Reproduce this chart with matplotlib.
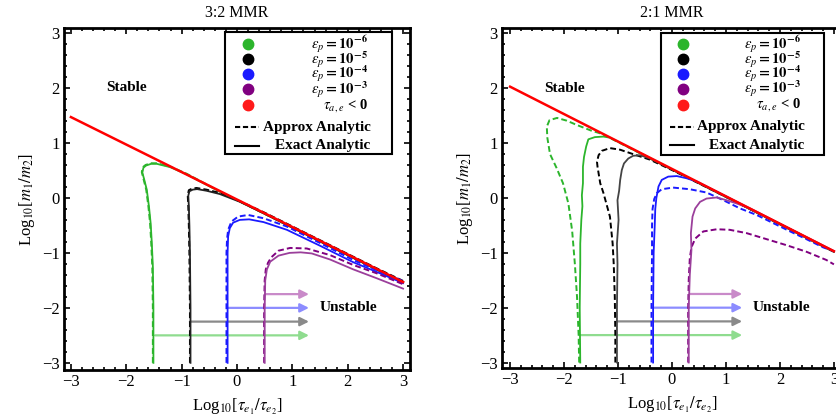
import matplotlib
matplotlib.use('Agg')
import matplotlib.pyplot as plt
from matplotlib.patches import Rectangle
from matplotlib.ticker import MultipleLocator

plt.rcParams['font.family'] = 'serif'
plt.rcParams['font.serif'] = ['Liberation Serif', 'DejaVu Serif']
plt.rcParams['mathtext.fontset'] = 'stix'

# ---- 3:2 MMR panel ----
red_x_32 = [-3.0, 3.0]
red_y_32 = [1.47, -1.53]

green_approx_x_32 = [-1.52, -1.52, -1.53, -1.55, -1.57, -1.60, -1.64, -1.69, -1.72, -1.70, -1.65, -1.55, -1.45, -1.21, -0.91, -0.67, -0.30, 0.5, 1.5, 2.5, 3.0]
green_approx_y_32 = [-3.0, -2.0, -1.25, -0.8, -0.46, -0.16, 0.15, 0.35, 0.47, 0.56, 0.60, 0.63, 0.63, 0.57, 0.44, 0.31, 0.11, -0.29, -0.79, -1.29, -1.54]
green_exact_x_32 = [-1.51, -1.51, -1.52, -1.54, -1.56, -1.59, -1.63, -1.68, -1.71, -1.69, -1.64, -1.55, -1.45, -1.21, -0.91, -0.67, -0.30, 0.5, 1.5, 2.5, 3.0]
green_exact_y_32 = [-3.0, -2.0, -1.25, -0.8, -0.46, -0.16, 0.15, 0.35, 0.46, 0.55, 0.59, 0.62, 0.62, 0.56, 0.43, 0.30, 0.11, -0.29, -0.79, -1.29, -1.54]

black_approx_x_32 = [-0.85, -0.85, -0.86, -0.87, -0.88, -0.89, -0.87, -0.81, -0.73, -0.55, -0.31, 0.05, 0.5, 1.5, 2.5, 3.0]
black_approx_y_32 = [-3.0, -2.0, -1.0, -0.5, -0.15, 0.05, 0.14, 0.17, 0.18, 0.15, 0.09, -0.06, -0.27, -0.77, -1.27, -1.51]
black_exact_x_32 = [-0.84, -0.84, -0.85, -0.86, -0.87, -0.88, -0.86, -0.80, -0.72, -0.55, -0.31, 0.05, 0.5, 1.5, 2.5, 3.0]
black_exact_y_32 = [-3.0, -2.0, -1.0, -0.5, -0.15, 0.04, 0.12, 0.15, 0.16, 0.13, 0.07, -0.07, -0.29, -0.79, -1.29, -1.53]

blue_approx_x_32 = [-0.19, -0.19, -0.19, -0.18, -0.16, -0.10, 0.02, 0.20, 0.48, 0.90, 1.5, 2.1, 2.58, 3.0]
blue_approx_y_32 = [-3.0, -2.0, -1.0, -0.75, -0.58, -0.43, -0.34, -0.31, -0.37, -0.52, -0.82, -1.13, -1.34, -1.51]
blue_exact_x_32 = [-0.17, -0.17, -0.17, -0.16, -0.13, -0.07, 0.05, 0.22, 0.48, 0.90, 1.5, 2.1, 2.58, 3.0]
blue_exact_y_32 = [-3.0, -2.0, -1.0, -0.70, -0.55, -0.45, -0.40, -0.39, -0.44, -0.58, -0.87, -1.17, -1.37, -1.55]

purple_approx_x_32 = [0.49, 0.49, 0.50, 0.52, 0.56, 0.62, 0.75, 0.96, 1.26, 1.68, 2.1, 2.52, 3.0]
purple_approx_y_32 = [-3.0, -2.0, -1.5, -1.3, -1.18, -1.08, -0.96, -0.91, -0.92, -1.04, -1.22, -1.37, -1.57]
purple_exact_x_32 = [0.50, 0.50, 0.51, 0.54, 0.60, 0.75, 0.95, 1.15, 1.35, 1.68, 2.1, 2.52, 3.0]
purple_exact_y_32 = [-3.0, -2.0, -1.5, -1.3, -1.16, -1.05, -1.00, -0.99, -1.01, -1.12, -1.30, -1.46, -1.65]

arrow_start_32 = [0.52, -0.16, -0.85, -1.48]

# ---- 2:1 MMR panel ----
red_x_21 = [-3.0, 3.0]
red_y_21 = [2.03, -0.97]

green_approx_x_21 = [-1.72, -1.73, -1.76, -1.80, -1.85, -1.92, -2.02, -2.14, -2.26, -2.31, -2.32, -2.27, -2.13, -1.95, -1.76, -1.50, -1.30, -1.0, 0.0, 1.0, 2.0, 3.0]
green_approx_y_21 = [-3.0, -2.5, -1.8, -1.2, -0.6, -0.1, 0.27, 0.55, 0.8, 1.1, 1.3, 1.42, 1.46, 1.41, 1.33, 1.23, 1.17, 1.02, 0.52, 0.02, -0.48, -0.98]
green_exact_x_21 = [-1.70, -1.71, -1.70, -1.70, -1.68, -1.66, -1.67, -1.65, -1.65, -1.63, -1.59, -1.55, -1.43, -1.27, -1.15, 0.0, 1.0, 2.0, 3.0]
green_exact_y_21 = [-3.0, -2.0, -1.2, -0.83, -0.4, -0.15, 0.05, 0.27, 0.57, 0.75, 0.94, 1.07, 1.11, 1.12, 1.10, 0.52, 0.02, -0.48, -0.98]

black_approx_x_21 = [-1.05, -1.05, -1.06, -1.08, -1.10, -1.15, -1.27, -1.33, -1.38, -1.39, -1.36, -1.30, -1.15, -0.96, -0.72, -0.41, 0.02, 1.0, 2.0, 3.0]
black_approx_y_21 = [-3.0, -2.5, -1.8, -1.2, -0.83, -0.34, 0.09, 0.27, 0.57, 0.66, 0.78, 0.86, 0.91, 0.88, 0.80, 0.70, 0.50, 0.02, -0.48, -0.98]
black_exact_x_21 = [-1.02, -1.02, -1.01, -1.02, -0.99, -1.01, -0.98, -0.96, -0.93, -0.89, -0.81, -0.72, -0.59, -0.41, 0.0, 1.0, 2.0, 3.0]
black_exact_y_21 = [-3.0, -2.0, -1.2, -0.83, -0.4, -0.04, 0.13, 0.33, 0.51, 0.63, 0.72, 0.77, 0.78, 0.72, 0.52, 0.02, -0.48, -0.98]

blue_approx_x_21 = [-0.38, -0.38, -0.37, -0.37, -0.36, -0.33, -0.28, -0.19, 0.02, 0.33, 0.64, 0.95, 1.26, 1.57, 1.88, 2.19, 2.49, 2.80, 3.0]
blue_approx_y_21 = [-3.0, -2.0, -1.0, -0.5, -0.2, -0.02, 0.09, 0.16, 0.19, 0.16, 0.10, -0.04, -0.19, -0.31, -0.46, -0.61, -0.75, -0.90, -0.97]
blue_exact_x_21 = [-0.35, -0.35, -0.34, -0.32, -0.31, -0.29, -0.25, -0.19, -0.07, 0.09, 0.27, 0.46, 1.0, 2.0, 3.0]
blue_exact_y_21 = [-3.0, -2.0, -1.0, -0.5, -0.2, 0.0, 0.21, 0.33, 0.39, 0.40, 0.36, 0.30, 0.03, -0.47, -0.97]

purple_approx_x_21 = [0.30, 0.30, 0.31, 0.33, 0.36, 0.43, 0.58, 0.83, 1.07, 1.38, 1.75, 2.12, 2.49, 2.86, 3.0]
purple_approx_y_21 = [-3.0, -2.0, -1.5, -1.1, -0.9, -0.74, -0.61, -0.57, -0.58, -0.64, -0.75, -0.86, -0.98, -1.13, -1.21]
purple_exact_x_21 = [0.31, 0.31, 0.33, 0.36, 0.35, 0.38, 0.43, 0.52, 0.64, 0.83, 1.01, 1.2, 1.44, 2.0, 3.0]
purple_exact_y_21 = [-3.0, -2.0, -1.4, -0.95, -0.64, -0.34, -0.19, -0.07, -0.01, 0.01, -0.04, -0.1, -0.19, -0.47, -0.97]

arrow_start_21 = [0.33, -0.35, -1.02, -1.72]

# shared
arrow_y = [-1.75, -2.0, -2.25, -2.5]
arrow_end = 1.3
arrow_colors = ['#c98ac9', '#8c8cff', '#8a8a8a', '#8fdc8f']

eps_labels = [r'$\epsilon_p\mathbf{=10}^{\mathbf{-6}}$', r'$\epsilon_p\mathbf{=10}^{\mathbf{-5}}$',
              r'$\epsilon_p\mathbf{=10}^{\mathbf{-4}}$', r'$\epsilon_p\mathbf{=10}^{\mathbf{-3}}$',
              r'$\tau_{a,e}$ < 0']
key_colors = ['#2cb52c', '#000000', '#1a1aff', '#800080', '#ff1a1a']

GREEN = '#2cb52c'
BLUE = '#1a1aff'
PURPLE = '#800080'
PURPLE_L = '#9b3f9b'


def draw_panel(ax, title, red, curves, arrow_start, box):
    for x, y, c, ls in curves:
        if ls == 'dash':
            ax.plot(x, y, color=c, lw=1.4, dashes=(3, 1.6), zorder=3)
        else:
            ax.plot(x, y, color=c, lw=1.3, zorder=3)
    ax.plot(red[0], red[1], color='#ff0000', lw=1.8, zorder=4)

    for x0, y0, c in zip(arrow_start, arrow_y, arrow_colors):
        ax.annotate('', xy=(arrow_end, y0), xytext=(x0, y0),
                    arrowprops=dict(arrowstyle='-|>', color=c, lw=1.6,
                                    mutation_scale=13, shrinkA=0, shrinkB=0),
                    zorder=2)

    ax.text(-2.0, 2.0, 'Stable', fontsize=11, fontweight='bold', ha='center', va='center')
    ax.text(1.5, -2.0, 'Unstable', fontsize=11, fontweight='bold', ha='left', va='center')

    ax.set_title(title, fontsize=11.5, pad=8)
    ax.set_xlabel(r'Log$_{10}$[$\tau_{e_1}/\tau_{e_2}$]', fontsize=12, labelpad=5)
    ax.set_ylabel(r'Log$_{10}$[$m_1/m_2$]', fontsize=12, labelpad=4)

    ax.xaxis.set_major_locator(MultipleLocator(1))
    ax.yaxis.set_major_locator(MultipleLocator(1))
    ax.xaxis.set_minor_locator(MultipleLocator(0.2))
    ax.yaxis.set_minor_locator(MultipleLocator(0.2))
    ax.tick_params(which='both', direction='in', top=True, right=True, labelsize=12, width=1.2, pad=3)
    ax.tick_params(which='major', length=4.5)
    ax.tick_params(which='minor', length=2.5)
    for s in ax.spines.values():
        s.set_linewidth(2.0)

    # key box
    bx0, by0, bw, bh = box
    ax.add_patch(Rectangle((bx0, by0), bw, bh, transform=ax.transAxes, facecolor='white',
                           edgecolor='black', lw=1.5, zorder=5))
    rows = [0.952, 0.908, 0.865, 0.821, 0.774]
    for r, lab, c in zip(rows, eps_labels, key_colors):
        ax.plot([0.532], [r], 'o', color=c, ms=7.5, transform=ax.transAxes, zorder=6, clip_on=False)
        ax.text(0.878, r, lab, transform=ax.transAxes, ha='right', va='center', fontsize=10.5,
                fontweight='bold', zorder=6)
    ax.plot([0.495, 0.565], [0.71, 0.71], color='black', lw=1.5, dashes=(2.5, 1.3),
            transform=ax.transAxes, zorder=6)
    ax.text(0.575, 0.71, 'Approx Analytic', transform=ax.transAxes, ha='left', va='center',
            fontsize=11, fontweight='bold', zorder=6)
    ax.plot([0.495, 0.565], [0.655, 0.655], color='black', lw=1.5, transform=ax.transAxes, zorder=6)
    ax.text(0.61, 0.655, 'Exact Analytic', transform=ax.transAxes, ha='left', va='center',
            fontsize=11, fontweight='bold', zorder=6)


fig = plt.figure(figsize=(8.37, 4.18), dpi=100)
ax1 = fig.add_axes([64 / 837, 48 / 418, 346 / 837, 342 / 418])
ax2 = fig.add_axes([502 / 837, 50 / 418, 340 / 837, 340 / 418])

curves_32 = [
    (green_approx_x_32, green_approx_y_32, GREEN, 'dash'),
    (green_exact_x_32, green_exact_y_32, GREEN, 'solid'),
    (black_approx_x_32, black_approx_y_32, 'black', 'dash'),
    (black_exact_x_32, black_exact_y_32, '#222222', 'solid'),
    (blue_approx_x_32, blue_approx_y_32, BLUE, 'dash'),
    (blue_exact_x_32, blue_exact_y_32, BLUE, 'solid'),
    (purple_approx_x_32, purple_approx_y_32, PURPLE, 'dash'),
    (purple_exact_x_32, purple_exact_y_32, PURPLE_L, 'solid'),
]
curves_21 = [
    (green_approx_x_21, green_approx_y_21, GREEN, 'dash'),
    (green_exact_x_21, green_exact_y_21, GREEN, 'solid'),
    (black_approx_x_21, black_approx_y_21, 'black', 'dash'),
    (black_exact_x_21, black_exact_y_21, '#444444', 'solid'),
    (blue_approx_x_21, blue_approx_y_21, BLUE, 'dash'),
    (blue_exact_x_21, blue_exact_y_21, BLUE, 'solid'),
    (purple_approx_x_21, purple_approx_y_21, PURPLE, 'dash'),
    (purple_exact_x_21, purple_exact_y_21, PURPLE_L, 'solid'),
]

draw_panel(ax1, '3:2 MMR', (red_x_32, red_y_32), curves_32, arrow_start_32,
           (0.466, 0.632, 0.482, 0.356))
draw_panel(ax2, '2:1 MMR', (red_x_21, red_y_21), curves_21, arrow_start_21,
           (0.468, 0.626, 0.479, 0.359))

ax1.set_xlim(-3.125, 3.125)
ax1.set_ylim(-3.13, 3.09)
ax2.set_xlim(-3.15, 3.15)
ax2.set_ylim(-3.1, 3.1)

fig.savefig('out.png', dpi=100)
